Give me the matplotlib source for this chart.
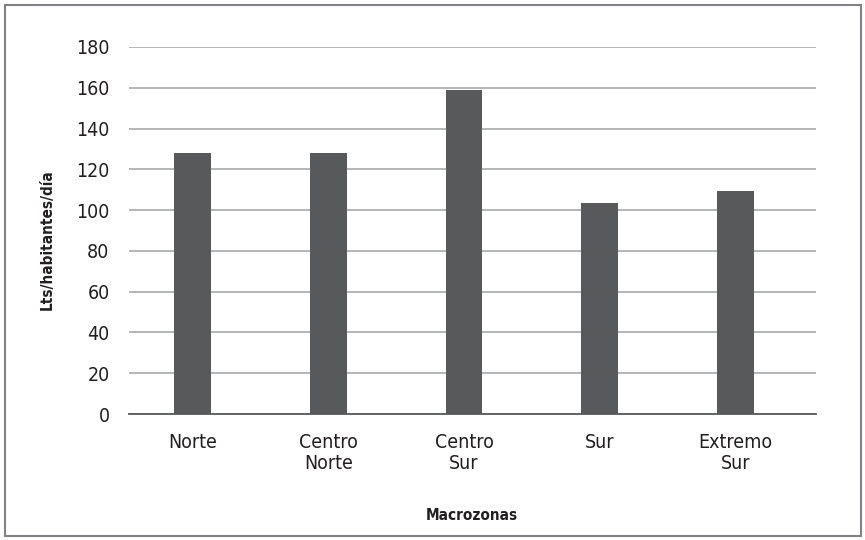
import matplotlib.pyplot as plt
from matplotlib.patches import Rectangle

zonas = ['Norte', 'Centro\nNorte', 'Centro\nSur', 'Sur', 'Extremo\nSur']
consumo = [128, 128, 159, 103.5, 109.5]
yticks = [0, 20, 40, 60, 80, 100, 120, 140, 160, 180]

plt.rcParams['font.family'] = ['DejaVu Sans']
plt.rcParams['font.stretch'] = 'condensed'

fig = plt.figure(figsize=(8.65, 5.4), dpi=100)
ax = fig.add_axes([129/865, 1 - 414/540, (816 - 129)/865, (414 - 47)/540])

x = range(len(zonas))
ax.bar(x, consumo, width=0.272, color='#58595b', zorder=3)

ax.set_ylim(0, 180)
ax.set_xlim(-0.468, len(zonas) - 1 + 0.593)
ax.set_yticks(yticks)
ax.set_xticks(list(x))
ax.set_xticklabels(zonas, fontsize=14, color='#231f20', linespacing=1.1)
ax.tick_params(axis='y', length=0, pad=14, labelsize=14, labelcolor='#231f20')
ax.tick_params(axis='x', length=0, pad=14)
ax.grid(axis='y', color='#a7a9ac', linewidth=1.2, zorder=0)
for s in ['top', 'right', 'left']:
    ax.spines[s].set_visible(False)
ax.spines['bottom'].set_color('#58595b')
ax.spines['bottom'].set_linewidth(1.3)
ax.spines['bottom'].set_zorder(4)

fig.text(47/865, 1 - 240/540, 'Lts/habitantes/día', rotation=90, ha='center', va='center',
         fontsize=11, fontweight='bold', color='#231f20')
fig.text(472/865, 1 - 515/540, 'Macrozonas', ha='center', va='center',
         fontsize=11, fontweight='bold', color='#231f20')

fig.patches.append(Rectangle((5/865, 4/540), 856/865, 531/540, transform=fig.transFigure,
                             fill=False, edgecolor='#808285', linewidth=1.5))

fig.savefig('out.png', dpi=100)
